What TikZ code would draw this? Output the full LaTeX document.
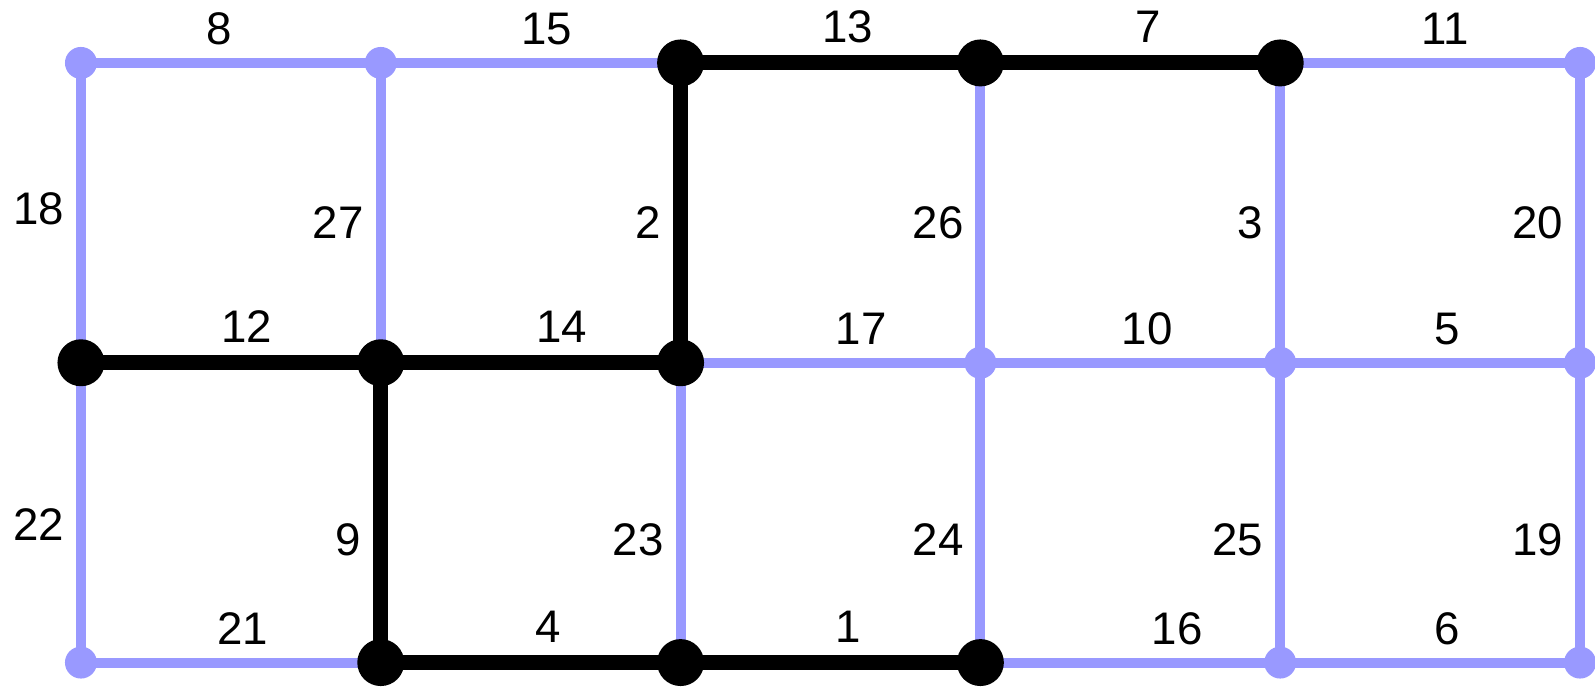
\documentclass[tikz,border=0pt]{standalone}
\usepackage{fontspec}
\setmainfont{Liberation Sans}
\usepackage{tikz}
\usetikzlibrary{positioning,backgrounds}
\definecolor{spare}{HTML}{9999ff}

\begin{document}
\begin{tikzpicture}[
  vtx/.style={circle, fill=spare, inner sep=0pt, minimum size=3.2mm},
  tvtx/.style={vtx, fill=black, minimum size=4.7mm},
  link/.style={draw=spare, line width=1mm},
  tlink/.style={draw=black, line width=1.5mm},
  wt/.style={inner sep=0pt, font=\fontsize{13}{15}\selectfont},
  hw/.style={wt, above=1.3mm}, vw/.style={wt, left=1.2mm}]
\useasboundingbox (-0.81,-0.25) rectangle (15.15,6.63);
\foreach \c in {0,...,5} \foreach \r in {0,1,2} \node[vtx] (v\c\r) at (3*\c,6-3*\r) {};
\foreach \c/\r in {2/0, 3/0, 4/0, 0/1, 1/1, 2/1, 1/2, 2/2, 3/2} \node[tvtx] at (v\c\r) {};
\begin{scope}[on background layer]
\foreach \a/\b/\w/\p/\l in {v00/v10/8/.46/hw, v10/v20/15/.553/hw, v40/v50/11/.55/hw,
    v21/v31/17/.603/hw, v31/v41/10/.557/hw, v41/v51/5/.557/hw,
    v02/v12/21/.54/hw, v32/v42/16/.657/hw, v42/v52/6/.557/hw,
    v00/v01/18/.487/vw, v10/v11/27/.533/vw, v30/v31/26/.533/vw, v40/v41/3/.533/vw, v50/v51/20/.533/vw,
    v01/v02/22/.54/vw, v21/v22/23/.59/vw, v31/v32/24/.59/vw, v41/v42/25/.59/vw, v51/v52/19/.59/vw}
  \draw[link] (\a.center) -- node[\l, pos=\p] {\w} (\b.center);
\foreach \a/\b/\w/\p/\l in {v20/v30/13/.557/hw, v30/v40/7/.56/hw, v01/v11/12/.553/hw, v11/v21/14/.603/hw,
    v12/v22/4/.557/hw, v22/v32/1/.56/hw, v20/v21/2/.533/vw, v11/v12/9/.59/vw}
  \draw[tlink] (\a.center) -- node[\l, pos=\p] {\w} (\b.center);
\end{scope}
\end{tikzpicture}
\end{document}
